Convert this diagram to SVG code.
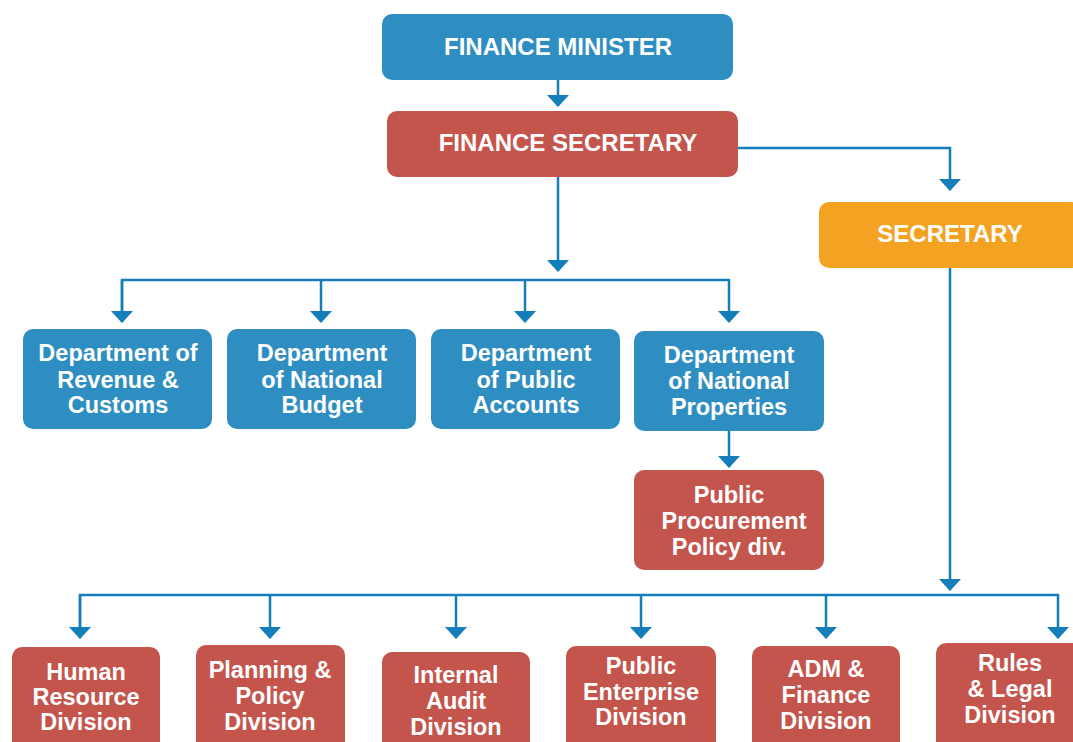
<svg xmlns="http://www.w3.org/2000/svg" width="1073" height="742" viewBox="0 0 1073 742">
<style>
.blue{fill:#2f8ec1}
.red{fill:#c4554d}
.orange{fill:#f3a222}
text{font-family:"Liberation Sans",Arial,sans-serif;font-weight:bold;fill:#fff;text-anchor:middle;font-size:23.5px}
.t{font-size:24px}
.c{fill:none;stroke:#137eb9;stroke-width:2.5}
</style>
<defs>
<marker id="ah" markerUnits="userSpaceOnUse" markerWidth="22" markerHeight="14" refX="11" refY="11" orient="0" viewBox="0 0 22 14">
<polygon points="0,0 22,0 11,12" fill="#137eb9"/>
</marker>
</defs>
<rect width="1073" height="742" fill="#fff"/>
<g id="connectors">
<path class="c" d="M558,80 V106" marker-end="url(#ah)"/>
<path class="c" d="M738,148 H950 V190" marker-end="url(#ah)"/>
<path class="c" d="M558,177 V271" marker-end="url(#ah)"/>
<path class="c" d="M122,322 V280 H729 V322" marker-end="url(#ah)"/>
<path class="c" d="M321,280 V322" marker-end="url(#ah)"/>
<path class="c" d="M525,280 V322" marker-end="url(#ah)"/>
<path class="c" d="M122,280 V322" marker-end="url(#ah)"/>
<path class="c" d="M729,431 V467" marker-end="url(#ah)"/>
<path class="c" d="M950,268 V590" marker-end="url(#ah)"/>
<path class="c" d="M80,638 V595 H1058 V638" marker-end="url(#ah)"/>
<path class="c" d="M80,595 V638" marker-end="url(#ah)"/>
<path class="c" d="M270,595 V638" marker-end="url(#ah)"/>
<path class="c" d="M456,595 V638" marker-end="url(#ah)"/>
<path class="c" d="M641,595 V638" marker-end="url(#ah)"/>
<path class="c" d="M826,595 V638" marker-end="url(#ah)"/>
</g>
<g id="finance-minister"><rect class="blue" x="382" y="14" width="351" height="66" rx="10"/><text x="558" y="55" class="t">FINANCE MINISTER</text></g>
<g id="finance-secretary"><rect class="red" x="387" y="111" width="351" height="66" rx="10"/><text x="568" y="151" class="t">FINANCE SECRETARY</text></g>
<g id="secretary"><rect class="orange" x="819" y="202" width="262" height="66" rx="10"/><text x="950" y="242" class="t">SECRETARY</text></g>
<g id="dept-revenue"><rect class="blue" x="23" y="329" width="189" height="100" rx="10"/><text x="118" y="361">Department of</text><text x="118" y="388">Revenue &amp;</text><text x="118" y="413">Customs</text></g>
<g id="dept-budget"><rect class="blue" x="227" y="329" width="189" height="100" rx="10"/><text x="322" y="361">Department</text><text x="322" y="388">of National</text><text x="322" y="413">Budget</text></g>
<g id="dept-accounts"><rect class="blue" x="431" y="329" width="189" height="100" rx="10"/><text x="526" y="361">Department</text><text x="526" y="388">of Public</text><text x="526" y="413">Accounts</text></g>
<g id="dept-properties"><rect class="blue" x="634" y="331" width="190" height="100" rx="10"/><text x="729" y="363">Department</text><text x="729" y="389">of National</text><text x="729" y="415">Properties</text></g>
<g id="procurement"><rect class="red" x="634" y="470" width="190" height="100" rx="10"/><text x="729" y="503">Public</text><text x="734" y="529">Procurement</text><text x="729" y="555">Policy div.</text></g>
<g id="hr"><rect class="red" x="12" y="647" width="148" height="110" rx="10"/><text x="86" y="680">Human</text><text x="86" y="705">Resource</text><text x="86" y="730">Division</text></g>
<g id="planning"><rect class="red" x="196" y="645" width="149" height="110" rx="10"/><text x="270" y="678">Planning &amp;</text><text x="270" y="704">Policy</text><text x="270" y="730">Division</text></g>
<g id="audit"><rect class="red" x="382" y="652" width="148" height="110" rx="10"/><text x="456" y="683">Internal</text><text x="456" y="709">Audit</text><text x="456" y="735">Division</text></g>
<g id="enterprise"><rect class="red" x="566" y="646" width="150" height="110" rx="10"/><text x="641" y="674">Public</text><text x="641" y="700">Enterprise</text><text x="641" y="725">Division</text></g>
<g id="adm"><rect class="red" x="752" y="646" width="148" height="110" rx="10"/><text x="826" y="677">ADM &amp;</text><text x="826" y="703">Finance</text><text x="826" y="729">Division</text></g>
<g id="rules"><rect class="red" x="936" y="643" width="148" height="110" rx="10"/><text x="1010" y="671">Rules</text><text x="1010" y="697">&amp; Legal</text><text x="1010" y="723">Division</text></g>
</svg>
